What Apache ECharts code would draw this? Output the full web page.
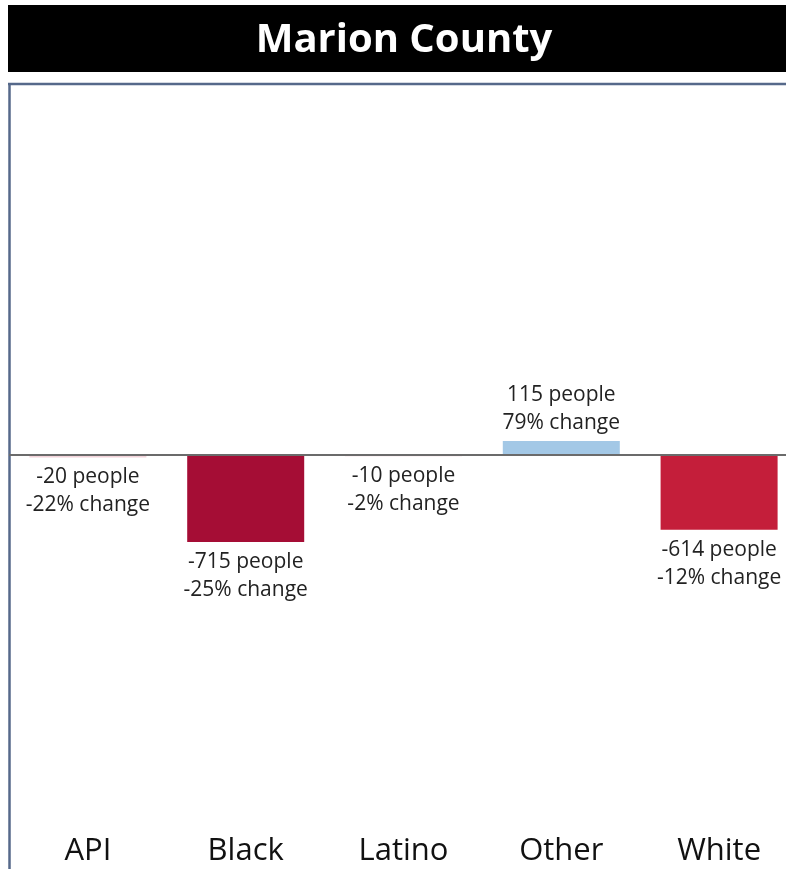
<!DOCTYPE html>
<html>
<head>
<meta charset="utf-8">
<script src="https://cdn.jsdelivr.net/npm/echarts@6/dist/echarts.min.js"></script>
<style>
html,body{margin:0;padding:0;background:#fff;overflow:hidden;width:786px;height:869px;}
#chart{width:800px;height:869px;}
</style>
</head>
<body>
<div id="chart"></div>
<script>
const titleText = 'Marion County';
const categories = ['API', 'Black', 'Latino', 'Other', 'White'];
const peopleChange = [-20, -715, -10, 115, -614];
const pctChange = [-22, -25, -2, 79, -12];
const barColors = ['#f2d3da', '#a50d35', '#f2d3da', '#a3c8e6', '#c41e3a'];

const chart = echarts.init(document.getElementById('chart'), null, {renderer: 'canvas'});
chart.setOption({
  animation: false,
  backgroundColor: '#ffffff',
  grid: {left: 9, width: 789, top: 90, height: 730, containLabel: false},
  graphic: [
    {type: 'rect', shape: {x: 8, y: 5, width: 778, height: 67}, style: {fill: '#000'}, z: 0},
    {type: 'text', style: {text: titleText, x: 404, y: 41, align: 'center', verticalAlign: 'middle',
      font: 'bold 40px "Open Sans"', fill: '#fff'}, z: 1},
    {type: 'rect', shape: {x: 786, y: 0, width: 20, height: 869}, style: {fill: '#fff'}, z: 100},
    {type: 'line', shape: {x1: 8, y1: 84, x2: 786, y2: 84}, style: {stroke: '#56698a', lineWidth: 2.5}},
    {type: 'line', shape: {x1: 9.5, y1: 83, x2: 9.5, y2: 869}, style: {stroke: '#56698a', lineWidth: 2.5}}
  ],
  xAxis: {
    type: 'category',
    data: categories,
    axisLine: {show: false},
    axisTick: {show: false},
    axisLabel: {fontFamily: 'Open Sans', fontSize: 31, color: '#111', margin: 16}
  },
  yAxis: {
    type: 'value',
    min: -3000, max: 3000,
    show: false,
    splitLine: {show: false}
  },
  series: [{
    type: 'bar',
    barWidth: 117,
    data: peopleChange.map((v, i) => ({
      value: v,
      itemStyle: {color: barColors[i]},
      label: {position: v >= 0 ? 'top' : 'bottom', distance: v >= 0 ? 4 : 6}
    })),
    label: {
      show: true,
      fontFamily: 'Open Sans',
      fontSize: 21,
      lineHeight: 28,
      color: '#222',
      formatter: p => peopleChange[p.dataIndex] + ' people\n' + pctChange[p.dataIndex] + '% change'
    },
    markLine: {
      silent: true,
      symbol: 'none',
      label: {show: false},
      lineStyle: {color: '#6b6b6b', width: 2, type: 'solid'},
      data: [{yAxis: 0}],
      z: 5
    }
  }]
});
</script>
</body>
</html>
